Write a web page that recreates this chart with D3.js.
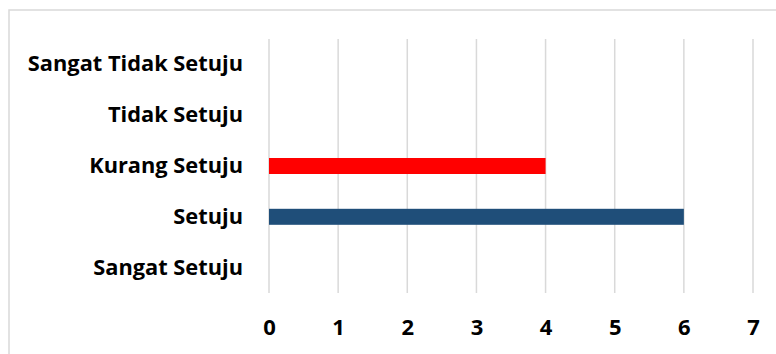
<!DOCTYPE html>
<html>
<head>
<meta charset="utf-8">
<script src="https://cdn.jsdelivr.net/npm/d3@7"></script>
<style>
  html, body { margin: 0; padding: 0; background: #fff; }
  svg { display: block; }
</style>
</head>
<body>
<svg id="chart" width="776" height="354"></svg>
<script>
// Survey responses per answer category
const categories = ["Sangat Tidak Setuju", "Tidak Setuju", "Kurang Setuju", "Setuju", "Sangat Setuju"];
const values = [0, 0, 4, 6, 0];
const barColors = ["#1f4e79", "#1f4e79", "#ff0000", "#1f4e79", "#1f4e79"];
const xTicks = [0, 1, 2, 3, 4, 5, 6, 7];

const svg = d3.select("#chart");
const W = 776, H = 354;
const plot = { left: 269, right: 753, top: 39, bottom: 293 };
const font = "'Open Sans', Lato, sans-serif";

// Outer chart frame (runs off the right and bottom edges)
svg.append("rect")
  .attr("x", 9).attr("y", 10)
  .attr("width", W + 20).attr("height", H + 20)
  .attr("fill", "#fff")
  .attr("stroke", "#d9d9d9").attr("stroke-width", 1.5);

const x = d3.scaleLinear().domain([0, 7]).range([plot.left, plot.right]);
const y = d3.scaleBand().domain(categories).range([plot.top, plot.bottom]).paddingInner(0.685).paddingOuter(0.3425);

// Vertical gridlines
svg.append("g")
  .selectAll("line")
  .data(xTicks)
  .join("line")
  .attr("x1", d => x(d)).attr("x2", d => x(d))
  .attr("y1", plot.top).attr("y2", plot.bottom)
  .attr("stroke", "#d9d9d9").attr("stroke-width", 1.5);

// Bars
svg.append("g")
  .selectAll("rect")
  .data(categories.map((c, i) => ({ c, v: values[i], color: barColors[i] })))
  .join("rect")
  .attr("x", x(0))
  .attr("y", d => y(d.c))
  .attr("width", d => x(d.v) - x(0))
  .attr("height", y.bandwidth())
  .attr("fill", d => d.color);

// Category axis
const yAxis = svg.append("g")
  .attr("transform", `translate(${plot.left},0)`)
  .call(d3.axisLeft(y).tickSize(0).tickPadding(26));
yAxis.select(".domain").remove();
yAxis.selectAll("text")
  .attr("font-family", font).attr("font-weight", "bold")
  .attr("font-size", 21.8).attr("fill", "#000");

// Value axis
const xAxis = svg.append("g")
  .attr("transform", `translate(0,${plot.bottom})`)
  .call(d3.axisBottom(x).tickValues(xTicks).tickFormat(d3.format("d")).tickSize(0).tickPadding(26));
xAxis.select(".domain").remove();
xAxis.selectAll("text")
  .attr("font-family", font).attr("font-weight", "bold")
  .attr("font-size", 22).attr("fill", "#000");
</script>
</body>
</html>
